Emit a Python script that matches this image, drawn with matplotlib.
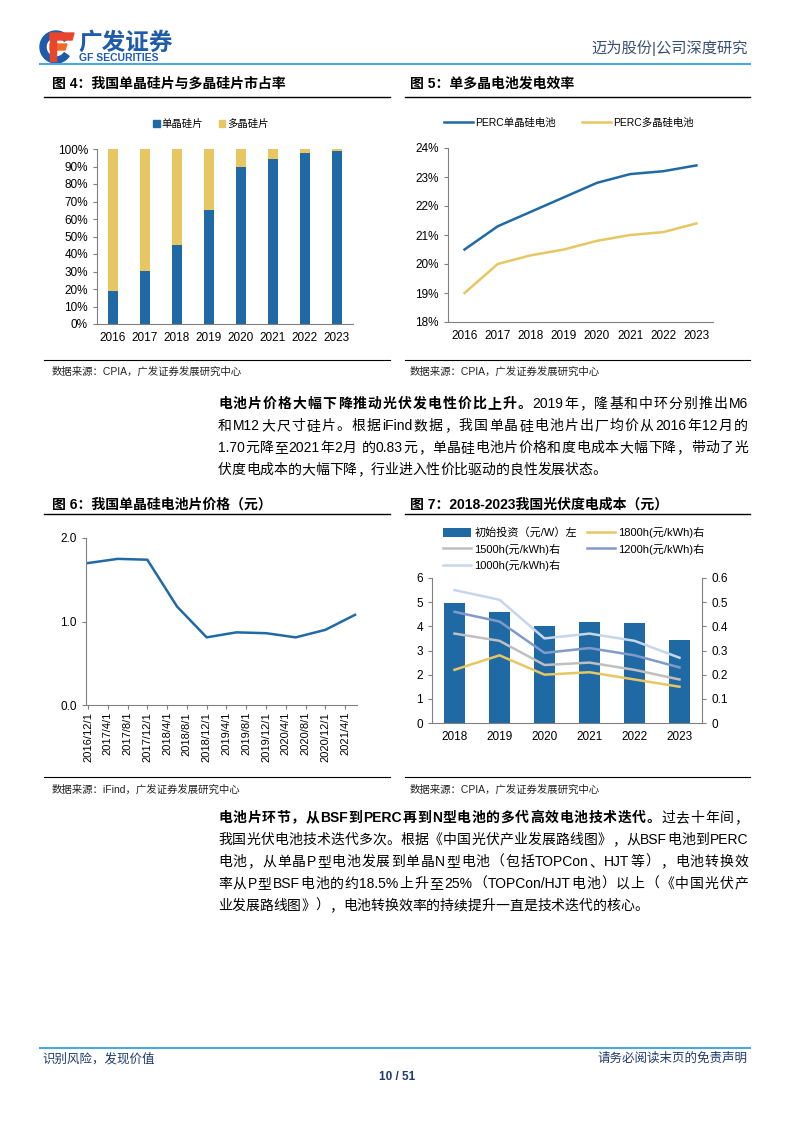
import matplotlib
matplotlib.use("Agg")
import matplotlib.pyplot as plt
from matplotlib.lines import Line2D
from matplotlib.patches import Wedge, Polygon, Patch
import numpy as np
import re

plt.rcParams['font.family'] = ['Liberation Sans', 'Noto Sans CJK SC']
plt.rcParams['axes.unicode_minus'] = False

# ---- data ----
years4 = ['2016', '2017', '2018', '2019', '2020', '2021', '2022', '2023']
mono_share = [19, 30.5, 45, 65, 90, 94.5, 97.5, 98.8]
multi_share = [100 - v for v in mono_share]

years5 = ['2016', '2017', '2018', '2019', '2020', '2021', '2022', '2023']
perc_mono = [20.5, 21.3, 21.8, 22.3, 22.8, 23.1, 23.2, 23.4]
perc_multi = [19.0, 20.0, 20.3, 20.5, 20.8, 21.0, 21.1, 21.4]

price_dates = ['2016-12', '2017-06', '2017-12', '2018-06', '2018-12',
               '2019-06', '2019-12', '2020-06', '2020-12', '2021-06']
cell_price = [1.70, 1.75, 1.74, 1.18, 0.81, 0.87, 0.86, 0.81, 0.90, 1.08]
date_ticks = ['2016/12/1', '2017/4/1', '2017/8/1', '2017/12/1', '2018/4/1', '2018/8/1',
              '2018/12/1', '2019/4/1', '2019/8/1', '2019/12/1', '2020/4/1', '2020/8/1',
              '2020/12/1', '2021/4/1']

years7 = ['2018', '2019', '2020', '2021', '2022', '2023']
invest = [4.95, 4.58, 4.02, 4.17, 4.15, 3.43]
lcoe_1800 = [0.22, 0.28, 0.20, 0.21, 0.18, 0.15]
lcoe_1500 = [0.37, 0.34, 0.24, 0.25, 0.22, 0.18]
lcoe_1200 = [0.46, 0.42, 0.29, 0.31, 0.28, 0.23]
lcoe_1000 = [0.55, 0.51, 0.35, 0.37, 0.34, 0.27]

BLUE = '#1F69A5'
YELLOW = '#E6C762'
GRAY = '#808080'
W, H = 794, 1123

fig = plt.figure(figsize=(W / 100, H / 100), dpi=100)
renderer = fig.canvas.get_renderer()


def box(l, t, r, b):
    return [l / W, 1 - b / H, (r - l) / W, (b - t) / H]


def hline(x1, x2, y, color='black', lw=1.0):
    fig.add_artist(Line2D([x1 / W, x2 / W], [1 - y / H] * 2, transform=fig.transFigure,
                          color=color, lw=lw))


def text(x, y, s, **kw):
    kw.setdefault('va', 'center')
    return fig.text(x / W, 1 - y / H, s, **kw)


def style_axes(ax):
    for s in ['top', 'right']:
        ax.spines[s].set_visible(False)
    for s in ['left', 'bottom']:
        ax.spines[s].set_color(GRAY)
        ax.spines[s].set_linewidth(0.8)
    ax.tick_params(labelsize=8.5, color=GRAY, length=3, width=0.8)
    ax.tick_params(axis='x', length=0, pad=6)


def body_line(x0, x1, y, segments, justify=True, size=10):
    # segments: list of (string, weight); spread tokens between x0 and x1
    items = []
    for s, wt in segments:
        for tok in re.findall(r'[A-Za-z0-9.%/]+|.', s):
            t = text(x0, y, tok, fontsize=size, fontweight=wt)
            w = t.get_window_extent(renderer=renderer).width if tok.strip() else size * 0.35
            items.append((t, w))
    total = sum(w for _, w in items)
    gap = (x1 - x0 - total) / (len(items) - 1) if justify else 0
    x = x0
    for t, w in items:
        t.set_x(x / W)
        x += w + gap


# ---- header ----
logo = fig.add_axes(box(36, 26, 78, 66))
logo.set_xlim(36, 78)
logo.set_ylim(66, 26)
logo.axis('off')
logo.add_patch(Wedge((56, 47), 16, 35, 325, width=6, color='#1E5BAA'))
logo.add_patch(Polygon([(50, 33), (74, 33), (72, 40), (50, 40)], color='#E8452C'))
logo.add_patch(Polygon([(50, 44), (67, 44), (65, 50), (50, 50)], color='#F06A2A'))
logo.add_patch(Polygon([(50, 33), (56, 33), (56, 61), (50, 61)], color='#E8452C'))
text(78, 43, '广发证券', fontsize=17, fontweight='bold', color='#1E5BAA', style='italic')
text(79, 58, 'GF SECURITIES', fontsize=7.5, fontweight='bold', color='#1E5BAA')
text(748, 48, '迈为股份|公司深度研究', fontsize=11, color='#3A4F72', ha='right')
hline(40, 750, 64, color='#48A9DE', lw=1.5)

# ---- figure titles ----
text(52, 84, '图 4：我国单晶硅片与多晶硅片市占率', fontsize=10, fontweight='bold')
text(410, 84, '图 5：单多晶电池发电效率', fontsize=10, fontweight='bold')
hline(44, 390, 97)
hline(405, 750, 97)
text(52, 505, '图 6：我国单晶硅电池片价格（元）', fontsize=10, fontweight='bold')
text(410, 505, '图 7：2018-2023我国光伏度电成本（元）', fontsize=10, fontweight='bold')
hline(44, 390, 514)
hline(405, 750, 514)

# ---- chart 4 ----
ax4 = fig.add_axes(box(97, 149, 353, 324))
x4 = np.arange(len(years4))
ax4.bar(x4, mono_share, width=0.34, color=BLUE)
ax4.bar(x4, multi_share, width=0.34, bottom=mono_share, color=YELLOW)
ax4.set_xlim(-0.5, 7.5)
ax4.set_ylim(0, 100)
ax4.set_yticks(range(0, 101, 10))
ax4.set_yticklabels([f'{v}%' for v in range(0, 101, 10)])
ax4.set_xticks(x4)
ax4.set_xticklabels(years4)
style_axes(ax4)
fig.legend(handles=[Patch(color=BLUE, label='单晶硅片'), Patch(color=YELLOW, label='多晶硅片')],
           loc='center', bbox_to_anchor=(211 / W, 1 - 124 / H), ncol=2, frameon=False,
           fontsize=7.5, handlelength=0.6, handleheight=0.6, handletextpad=0.2, columnspacing=1.5)

# ---- chart 5 ----
ax5 = fig.add_axes(box(448, 148, 713, 322))
x5 = np.arange(len(years5))
ax5.plot(x5, perc_mono, color=BLUE, lw=1.8, label='PERC单晶硅电池')
ax5.plot(x5, perc_multi, color=YELLOW, lw=1.8, label='PERC多晶硅电池')
ax5.set_xlim(-0.5, 7.5)
ax5.set_ylim(18, 24)
ax5.set_yticks(range(18, 25))
ax5.set_yticklabels([f'{v}%' for v in range(18, 25)])
ax5.set_xticks(x5)
ax5.set_xticklabels(years5)
style_axes(ax5)
fig.legend(loc='center', bbox_to_anchor=(569 / W, 1 - 123 / H), ncol=2, frameon=False,
           fontsize=7.5, handlelength=2.8, handletextpad=0.2, columnspacing=2.5)

# ---- chart 6 ----
ax6 = fig.add_axes(box(86, 538, 357, 705))
month_idx = [(int(d[:4]) - 2016) * 12 + int(d[5:]) - 12 for d in price_dates]
ax6.plot(month_idx, cell_price, color=BLUE, lw=1.8)
ax6.set_xlim(-0.4, 54.4)
ax6.set_ylim(0, 2.0)
ax6.set_yticks([0, 1.0, 2.0])
ax6.set_yticklabels(['0.0', '1.0', '2.0'])
ax6.set_xticks(np.arange(len(date_ticks)) * 4)
ax6.set_xticklabels(date_ticks, rotation=90)
style_axes(ax6)
ax6.tick_params(axis='x', length=3, pad=2, labelsize=8)

# ---- chart 7 ----
ax7 = fig.add_axes(box(432, 578, 702, 723))
x7 = np.arange(len(years7))
ax7.bar(x7, invest, width=0.45, color=BLUE, label='初始投资（元/W）左')
ax7.set_xlim(-0.5, 5.5)
ax7.set_ylim(0, 6)
ax7.set_yticks(range(0, 7))
ax7.set_xticks(x7)
ax7.set_xticklabels(years7)
style_axes(ax7)
ax7r = ax7.twinx()
ax7r.plot(x7, lcoe_1800, color=YELLOW, lw=1.8, label='1800h(元/kWh)右')
ax7r.plot(x7, lcoe_1500, color='#BFBFBF', lw=1.8, label='1500h(元/kWh)右')
ax7r.plot(x7, lcoe_1200, color='#7F9ACB', lw=1.8, label='1200h(元/kWh)右')
ax7r.plot(x7, lcoe_1000, color='#C6D6EB', lw=1.8, label='1000h(元/kWh)右')
ax7r.set_ylim(0, 0.6)
ax7r.set_yticks(np.arange(0, 0.61, 0.1))
ax7r.set_yticklabels(['0', '0.1', '0.2', '0.3', '0.4', '0.5', '0.6'])
for s in ['top', 'left', 'bottom']:
    ax7r.spines[s].set_visible(False)
ax7r.spines['right'].set_color(GRAY)
ax7r.spines['right'].set_linewidth(0.8)
ax7r.tick_params(labelsize=8.5, color=GRAY, length=3, width=0.8)
h1, l1 = ax7.get_legend_handles_labels()
h2, l2 = ax7r.get_legend_handles_labels()
order_h = [h1[0], h2[1], h2[3], h2[0], h2[2]]
order_l = [l1[0], l2[1], l2[3], l2[0], l2[2]]
fig.legend(order_h, order_l, loc='upper left', bbox_to_anchor=(433 / W, 1 - 517 / H),
           ncol=2, frameon=False, fontsize=8, handlelength=2.5, handleheight=0.9,
           handletextpad=0.3, columnspacing=0.9, labelspacing=0.5)

# ---- source lines ----
hline(44, 390, 360, lw=0.8)
hline(405, 750, 360, lw=0.8)
text(52, 372, '数据来源：CPIA，广发证券发展研究中心', fontsize=7.5, color='#222222')
text(410, 372, '数据来源：CPIA，广发证券发展研究中心', fontsize=7.5, color='#222222')
hline(44, 390, 777, lw=0.8)
hline(405, 750, 777, lw=0.8)
text(52, 790, '数据来源：iFind，广发证券发展研究中心', fontsize=7.5, color='#222222')
text(410, 790, '数据来源：CPIA，广发证券发展研究中心', fontsize=7.5, color='#222222')

# ---- body text ----
para1 = [[('电池片价格大幅下降推动光伏发电性价比上升。', 'bold'), ('2019年，隆基和中环分别推出M6', 'normal')],
         [('和M12大尺寸硅片。根据iFind数据，我国单晶硅电池片出厂均价从2016年12月的', 'normal')],
         [('1.70元降至2021年2月 的0.83元，单晶硅电池片价格和度电成本大幅下降，带动了光', 'normal')],
         [('伏度电成本的大幅下降，行业进入性价比驱动的良性发展状态。', 'normal')]]
for i, segs in enumerate(para1):
    body_line(218, 748, 404 + 22 * i, segs, justify=i < len(para1) - 1)

para2 = [[('电池片环节，从BSF到PERC再到N型电池的多代高效电池技术迭代。', 'bold'), ('过去十年间，', 'normal')],
         [('我国光伏电池技术迭代多次。根据《中国光伏产业发展路线图》，从BSF电池到PERC', 'normal')],
         [('电池，从单晶P型电池发展到单晶N型电池（包括TOPCon、HJT等），电池转换效', 'normal')],
         [('率从P型BSF电池的约18.5%上升至25%（TOPCon/HJT电池）以上（《中国光伏产', 'normal')],
         [('业发展路线图》），电池转换效率的持续提升一直是技术迭代的核心。', 'normal')]]
for i, segs in enumerate(para2):
    body_line(218, 748, 818 + 22 * i, segs, justify=i < len(para2) - 1)

# ---- footer ----
hline(40, 750, 1048, color='#48A9DE', lw=1.5)
text(42, 1059, '识别风险，发现价值', fontsize=9, color='#1F3B6E')
text(748, 1059, '请务必阅读末页的免责声明', fontsize=9, color='#1F3B6E', ha='right')
text(397, 1077, '10 / 51', fontsize=8.5, fontweight='bold', color='#1F3B6E', ha='center')

fig.savefig('out.png', dpi=100)
